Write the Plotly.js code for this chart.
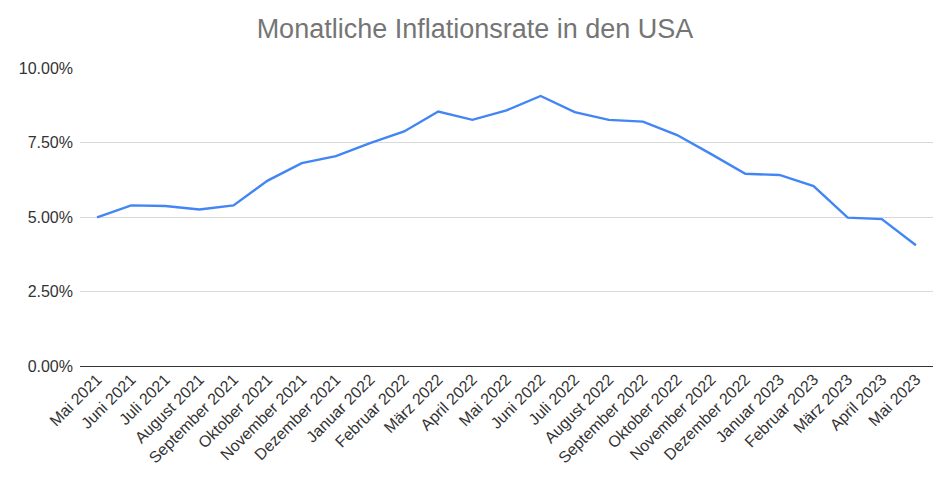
<!DOCTYPE html>
<html><head><meta charset="utf-8">
<script src="https://cdn.plot.ly/plotly-3.0.1.min.js"></script>
<style>html,body{margin:0;padding:0;background:#fff}</style>
</head><body>
<div id="chart" style="width:950px;height:480px"></div>
<script>
const months = ["Mai 2021","Juni 2021","Juli 2021","August 2021","September 2021","Oktober 2021","November 2021","Dezember 2021","Januar 2022","Februar 2022","März 2022","April 2022","Mai 2022","Juni 2022","Juli 2022","August 2022","September 2022","Oktober 2022","November 2022","Dezember 2022","Januar 2023","Februar 2023","März 2023","April 2023","Mai 2023"];
const inflation = [4.99,5.39,5.37,5.25,5.39,6.22,6.81,7.04,7.48,7.87,8.54,8.26,8.58,9.06,8.52,8.26,8.20,7.75,7.11,6.45,6.41,6.04,4.98,4.93,4.05];
const yTicks = [0,2.5,5,7.5,10];
const yTickLabels = ["0.00%","2.50%","5.00%","7.50%","10.00%"];

Plotly.newPlot("chart",[{
  x: months, y: inflation, type:"scatter", mode:"lines",
  line:{color:"#4285F4", width:2.4}, hoverinfo:"x+y"
}],{
  width:950, height:480,
  margin:{l:80, r:17, t:68, b:114},
  paper_bgcolor:"#fff", plot_bgcolor:"#fff",
  font:{family:"Liberation Sans, Arial, sans-serif", color:"#333", size:16},
  title:{text:"Monatliche Inflationsrate in den USA", x:0.5, xanchor:"center", y:0.94, yanchor:"middle",
    font:{family:"Liberation Sans, Arial, sans-serif", size:27, color:"#757575"}},
  xaxis:{type:"category", range:[-0.5,24.5], tickangle:-45, showgrid:false, zeroline:false,
    showline:false, ticks:"", tickfont:{size:16, color:"#333"}, automargin:false},
  yaxis:{range:[0,10], tickvals:yTicks, ticktext:yTickLabels, showgrid:true, gridcolor:"#d9d9d9",
    gridwidth:1, zeroline:true, zerolinecolor:"#333", zerolinewidth:1, showline:false, ticks:"",
    ticklabelstandoff:6, tickfont:{size:16, color:"#333"}, automargin:false},
  showlegend:false
},{displayModeBar:false, staticPlot:false});
</script>
</body></html>
